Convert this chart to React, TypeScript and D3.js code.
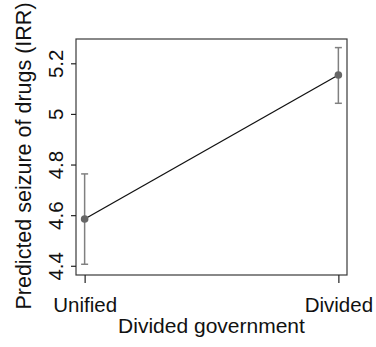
import { useEffect, useRef } from "react";
import * as d3 from "d3";

const categories = ["Unified", "Divided"];
const predicted = [4.585, 5.154];
const ciLower = [4.406, 5.042];
const ciUpper = [4.763, 5.262];
const yTicks = [4.4, 4.6, 4.8, 5, 5.2];

const W = 376,
  H = 347;
const frame = { left: 76, right: 347, top: 39, bottom: 275 };
const font = "'Liberation Sans', Arial, sans-serif";

function MarginsChart() {
  const ref = useRef<SVGSVGElement>(null);

  useEffect(() => {
    if (!ref.current) return;
    const svg = d3.select(ref.current);
    svg.selectAll("*").remove();

    const x = d3
      .scalePoint<string>()
      .domain(categories)
      .range([frame.left, frame.right])
      .padding(0.034);
    const y = d3
      .scaleLinear()
      .domain([4.3636, 5.296])
      .range([frame.bottom, frame.top]);

    svg.append("rect").attr("width", W).attr("height", H).attr("fill", "#fff");

    // plot frame
    svg
      .append("rect")
      .attr("x", frame.left)
      .attr("y", frame.top)
      .attr("width", frame.right - frame.left)
      .attr("height", frame.bottom - frame.top)
      .attr("fill", "none")
      .attr("stroke", "#3a3a3a")
      .attr("stroke-width", 1.2);

    // y axis
    const yAxis = svg
      .append("g")
      .attr("transform", `translate(${frame.left},0)`)
      .call(d3.axisLeft(y).tickValues(yTicks).tickSize(5).tickFormat((d) => String(d)));
    yAxis.select(".domain").remove();
    yAxis.selectAll(".tick line").attr("stroke", "#222").attr("stroke-width", 1.2);
    yAxis
      .selectAll<SVGTextElement, number>(".tick text")
      .attr("x", null)
      .attr("dy", null)
      .attr("text-anchor", "middle")
      .attr("fill", "#111")
      .style("font-family", font)
      .style("font-size", "20.5px")
      .attr("transform", "translate(-13,0) rotate(-90)");

    // x axis
    const xAxis = svg
      .append("g")
      .attr("transform", `translate(0,${frame.bottom})`)
      .call(d3.axisBottom(x).tickSize(8).tickPadding(0));
    xAxis.select(".domain").remove();
    xAxis.selectAll(".tick line").attr("stroke", "#222").attr("stroke-width", 1.2);
    xAxis
      .selectAll(".tick text")
      .attr("y", 37)
      .attr("dy", null)
      .attr("fill", "#111")
      .style("font-family", font)
      .style("font-size", "20.5px");

    // error bars
    const bars = svg.append("g").attr("stroke", "#808080").attr("stroke-width", 1.5);
    categories.forEach((c, i) => {
      const cx = x(c)!;
      bars
        .append("line")
        .attr("x1", cx)
        .attr("x2", cx)
        .attr("y1", y(ciLower[i]))
        .attr("y2", y(ciUpper[i]));
      [ciLower[i], ciUpper[i]].forEach((v) => {
        bars
          .append("line")
          .attr("x1", cx - 3.5)
          .attr("x2", cx + 3.5)
          .attr("y1", y(v))
          .attr("y2", y(v));
      });
    });

    const line = d3
      .line<number>()
      .x((_, i) => x(categories[i])!)
      .y((d) => y(d));
    svg
      .append("path")
      .datum(predicted)
      .attr("d", line)
      .attr("fill", "none")
      .attr("stroke", "#111")
      .attr("stroke-width", 1.3);

    svg
      .append("g")
      .selectAll("circle")
      .data(predicted)
      .enter()
      .append("circle")
      .attr("cx", (_, i) => x(categories[i])!)
      .attr("cy", (d) => y(d))
      .attr("r", 3.8)
      .attr("fill", "#666");

    // axis titles
    svg
      .append("text")
      .attr("x", (frame.left + frame.right) / 2)
      .attr("y", 333)
      .attr("text-anchor", "middle")
      .attr("fill", "#111")
      .style("font-family", font)
      .style("font-size", "21px")
      .text("Divided government");

    svg
      .append("text")
      .attr("transform", `translate(31,${156}) rotate(-90)`)
      .attr("text-anchor", "middle")
      .attr("fill", "#111")
      .style("font-family", font)
      .style("font-size", "21.5px")
      .text("Predicted seizure of drugs (IRR)");
  }, []);

  return (
    <svg
      ref={ref}
      width={W}
      height={H}
      style={{ display: "block", position: "fixed", left: 0, top: 0 }}
    />
  );
}

export default function App() {
  return (
    <div>
      <MarginsChart />
    </div>
  );
}
